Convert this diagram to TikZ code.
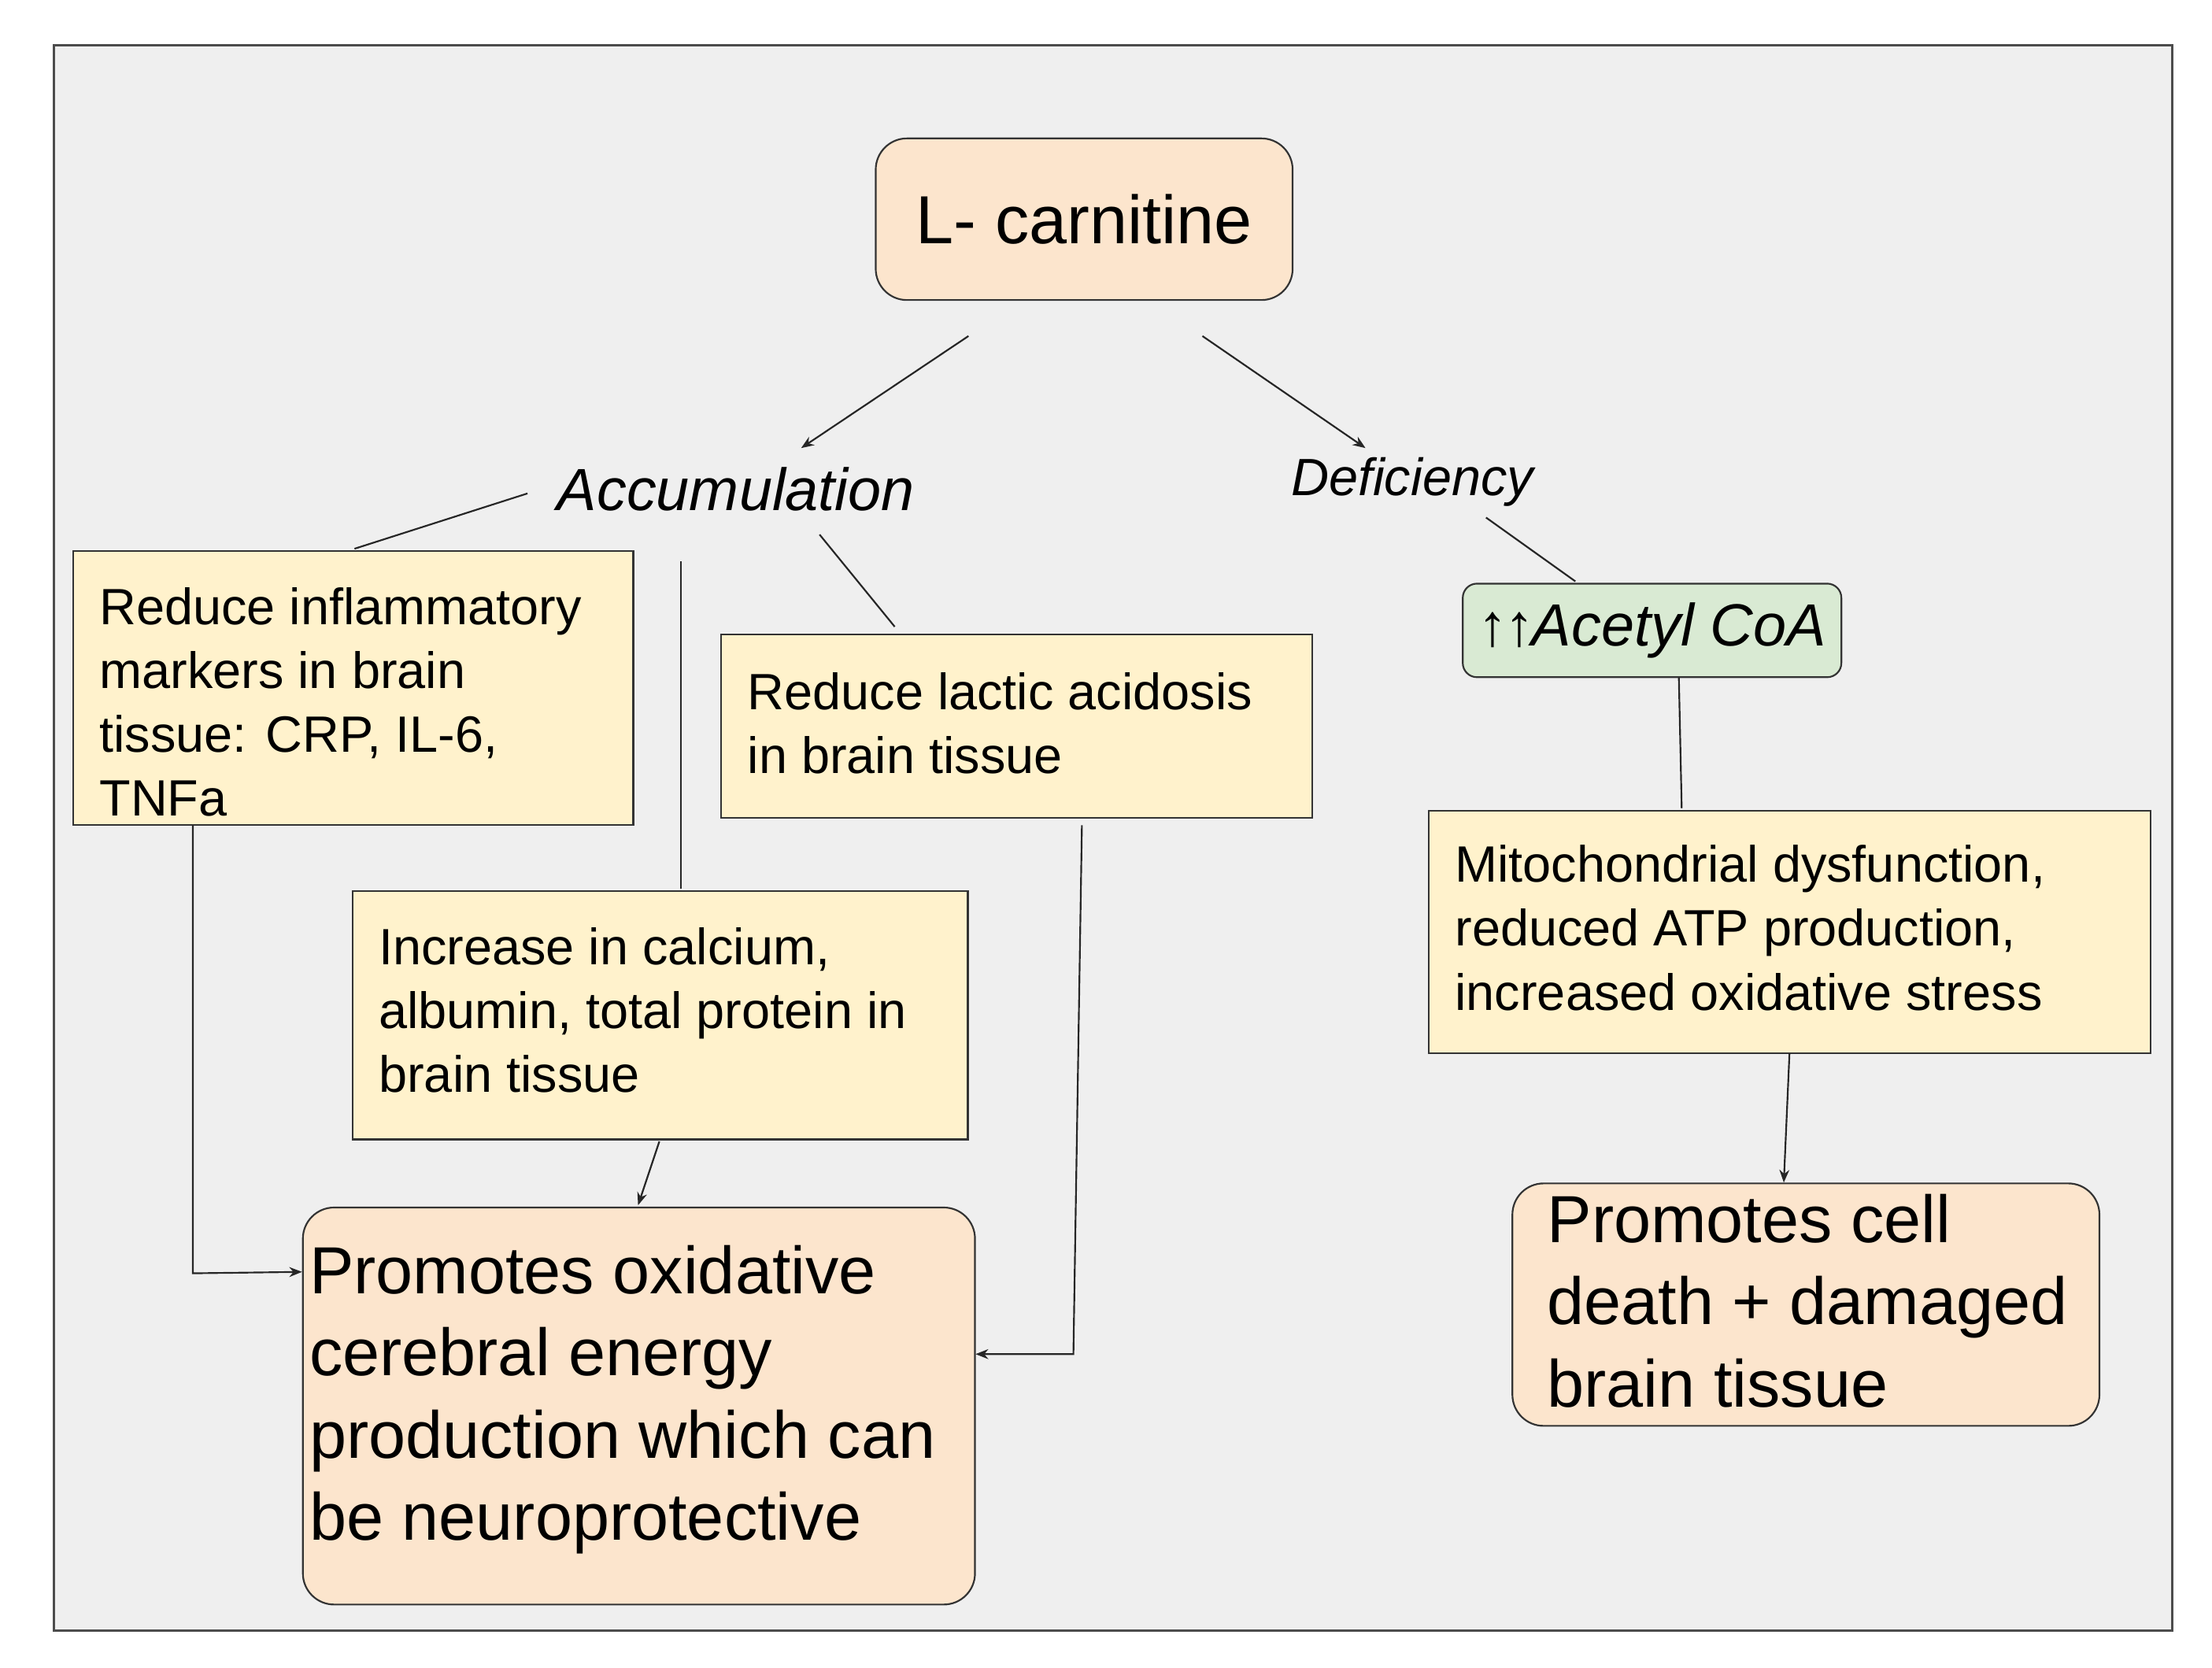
\documentclass[tikz,border=0pt]{standalone}
\usepackage{fontspec}
\setmainfont{Liberation Sans}
\usetikzlibrary{arrows.meta}
\definecolor{peach}{HTML}{FCE5CD}
\definecolor{yel}{HTML}{FFF2CC}
\definecolor{grn}{HTML}{D9EAD3}
\definecolor{bg}{HTML}{EFEFEF}
\begin{document}
\begin{tikzpicture}[x=1pt,y=-1pt,
  box/.style={draw=black!80,line width=1.2pt,fill=yel,anchor=north west,inner sep=0pt},
  rbox/.style={draw=black!80,line width=1.2pt,fill=peach,rounded corners=22pt,anchor=north west,inner sep=0pt},
  txt/.style={anchor=north west,align=left,inner sep=0pt,font=\fontsize{36}{45}\selectfont},
  btxt/.style={anchor=north west,align=left,inner sep=0pt,font=\fontsize{47}{58}\selectfont},
  con/.style={line width=1.2pt,black!85},
  arr/.style={con,-{Stealth[length=9pt,width=7pt]}}]
\useasboundingbox (0,0) rectangle (1560,1176);
\draw[fill=bg,draw=black!70,line width=1.5pt] (38,32) rectangle (1532,1150);
% nodes
\node[rbox,minimum width=294pt,minimum height=114pt,font=\fontsize{48}{54}\selectfont] (lc) at (617,97) {L- carnitine};
\node[font=\itshape\fontsize{42}{48}\selectfont] (acc) at (519,345) {Accumulation};
\node[font=\itshape\fontsize{37}{42}\selectfont] (def) at (996,340) {Deficiency};
\node[box,minimum width=395pt,minimum height=193pt] (b1) at (51,388) {};
\node[txt] (t1) at (70,414) {Reduce inflammatory\\markers in brain\\tissue: CRP, IL-6,\\TNFa};
\node[box,minimum width=417pt,minimum height=129pt] (b2) at (508,447) {};
\node[txt] (t2) at (527,474) {Reduce lactic acidosis\\in brain tissue};
\node[box,minimum width=434pt,minimum height=175pt] (b3) at (248,628) {};
\node[txt] (t3) at (267,654) {Increase in calcium,\\albumin, total protein in\\brain tissue};
\node[rbox,minimum width=474pt,minimum height=280pt] (big) at (213,851) {};
\node[btxt] (tb) at (218,878) {Promotes oxidative\\cerebral energy\\production which can\\be neuroprotective};
\node[draw=black!80,line width=1.2pt,fill=grn,rounded corners=10pt,minimum width=267pt,minimum height=66pt,anchor=north west,inner sep=0pt] (ac) at (1031,411) {};
\node[font=\fontsize{42}{48}\selectfont,inner sep=0pt] (tac) at (ac.center) {\symbol{"2191}\kern-2pt\symbol{"2191}\kern-2pt\textit{Acetyl CoA}};
\node[box,minimum width=509pt,minimum height=171pt] (b4) at (1007,571) {};
\node[txt] (t4) at (1026,596) {Mitochondrial dysfunction,\\reduced ATP production,\\increased oxidative stress};
\node[rbox,minimum width=414pt,minimum height=171pt] (b5) at (1066,834) {};
\node[btxt] (t5) at (1091,842) {Promotes cell\\death + damaged\\brain tissue};
% coordinates
\coordinate (lcl) at (683,237); \coordinate (lcr) at (848,237);
\coordinate (accT) at (565,316); \coordinate (defT) at (963,316);
\coordinate (a1) at (372,348); \coordinate (a2) at (480,396); \coordinate (a3) at (578,377);
\coordinate (d1) at (1048,365);
% connectors
\draw[arr] (lcl) -- (accT);
\draw[arr] (lcr) -- (defT);
\draw[con] (a1) -- (250,387);
\draw[con] (a2) -- (480,627);
\draw[con] (a3) -- (631,442);
\draw[arr] (465,805) -- (450,850);
\draw[arr] (136,582) -- (136,898) -- (213,897);
\draw[arr] (763,582) -- (757,955) -- (688,955);
\draw[con] (d1) -- (1111,410);
\draw[con] (1184,478) -- (1186,570);
\draw[arr] (1262,743) -- (1258,834);
\end{tikzpicture}
\end{document}
